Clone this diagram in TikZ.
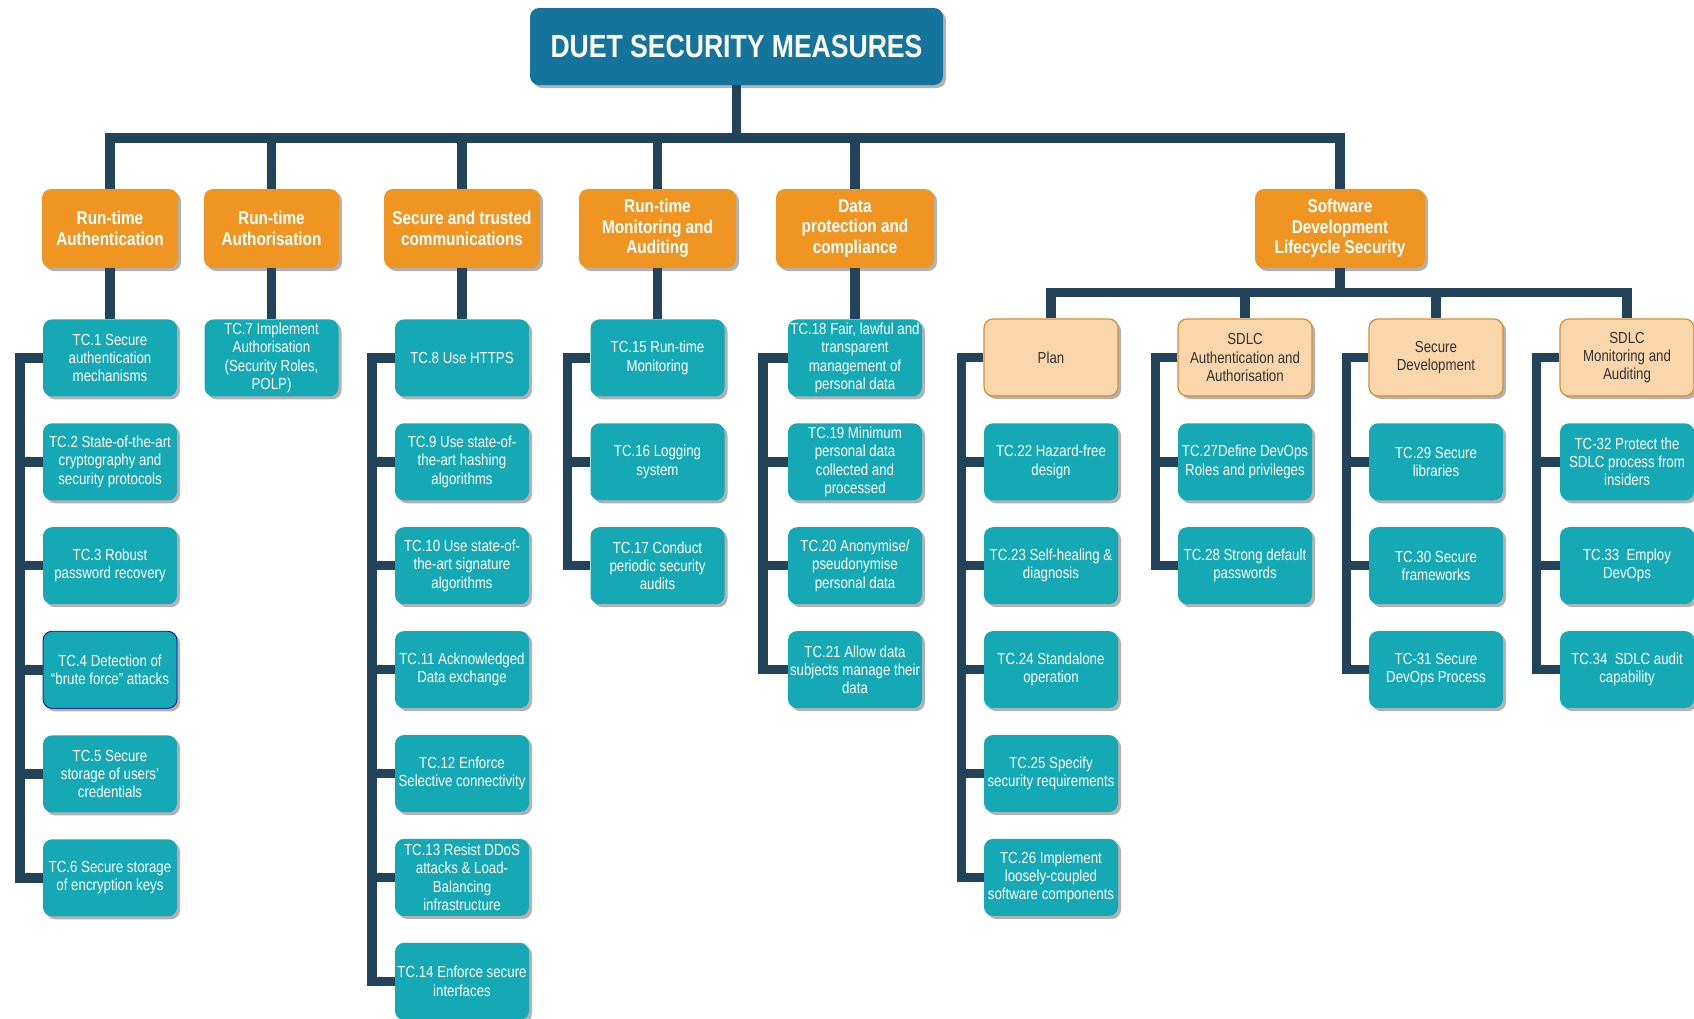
\documentclass[tikz,border=0pt]{standalone}
\usepackage{fontspec}
\setmainfont{Liberation Sans}[FakeStretch=0.83]
\usepackage{tikz}
\usetikzlibrary{positioning,shadows}

\definecolor{duetblue}{RGB}{20,116,156}
\definecolor{catorange}{RGB}{240,148,34}
\definecolor{tcteal}{RGB}{20,169,181}
\definecolor{subpeach}{RGB}{250,214,170}
\definecolor{subedge}{RGB}{212,140,52}
\definecolor{linenavy}{RGB}{35,67,91}

\begin{document}
\begin{tikzpicture}[
  x=1pt, y=1pt,
  node distance=26.5pt,
  box/.style={rounded corners=9pt, align=center, inner sep=1pt, drop shadow={shadow xshift=3pt, shadow yshift=-3pt, opacity=0.3, fill=black}},
  title/.style={box, fill=duetblue, text=white, font=\fontsize{32}{36}\selectfont\bfseries, minimum width=413pt, minimum height=77pt},
  cat/.style={box, fill=catorange, text=white, font=\fontsize{18.5}{20.7}\selectfont\bfseries, minimum height=79pt, minimum width=#1},
  sub/.style={box, fill=subpeach, draw=subedge, line width=1.2pt, text=black!80, font=\fontsize{16}{18.3}\selectfont, minimum width=134pt, minimum height=77pt},
  tc/.style={box, fill=tcteal, text=white, font=\fontsize{16}{18.3}\selectfont, minimum width=134pt, minimum height=77pt},
  conn/.style={draw=linenavy, line width=9.5pt},
]
\useasboundingbox (0,0) rectangle (1694,-1018);
% Title and categories
\node[title] (duet) at (736.5,-46.5) {DUET SECURITY MEASURES};
\node[cat=136pt] (rtauthn) at (110,-228.5) {Run-time\\Authentication};
\node[cat=135pt] (rtauthz) at (271.5,-228.5) {Run-time\\Authorisation};
\node[cat=156pt] (comms) at (462,-228.5) {Secure and trusted\\communications};
\node[cat=157pt] (monit) at (657.5,-228.5) {Run-time\\Monitoring and\\Auditing};
\node[cat=158pt] (dataprot) at (855,-228.5) {Data\\protection and\\compliance};
\node[cat=170pt] (sdlc) at (1340,-228.5) {Software\\Development\\Lifecycle Security};
\coordinate (bus) at (0,-138);
\draw[conn] (duet.south) -- (duet.south |- bus);
\draw[conn] (rtauthn.north) -- (rtauthn.north |- bus) -- (sdlc.north |- bus) -- (sdlc.north);
\foreach \c in {rtauthz,comms,monit,dataprot} {\draw[conn] (\c.north |- bus) -- (\c.north);}
% Run-time authentication
\node[tc, below=51pt of rtauthn] (tc1) {TC.1 Secure\\authentication\\mechanisms};
\node[tc, below=of tc1] (tc2) {TC.2 State-of-the-art\\cryptography and\\security protocols};
\node[tc, below=of tc2] (tc3) {TC.3 Robust\\password recovery};
\node[tc, draw=blue!55!black, line width=0.8pt, below=of tc3] (tc4) {TC.4 Detection of\\``brute force'' attacks};
\node[tc, below=of tc4] (tc5) {TC.5 Secure\\storage of users'\\credentials};
\node[tc, below=of tc5] (tc6) {TC.6 Secure storage\\of encryption keys};
\draw[conn] (rtauthn.south) -- (tc1.north);
\draw[conn] (tc1.west) -- ++(-23,0) |- (tc6.west);
\foreach \t in {tc2,tc3,tc4,tc5} {\draw[conn] (\t.west) -- ++(-23,0);}
% Run-time authorisation
\node[tc, below=51pt of rtauthz] (tc7) {TC.7 Implement\\Authorisation\\(Security Roles,\\POLP)};
\draw[conn] (rtauthz.south) -- (tc7.north);
% Communications
\node[tc, below=51pt of comms] (tc8) {TC.8 Use HTTPS};
\node[tc, below=of tc8] (tc9) {TC.9 Use state-of-\\the-art hashing\\algorithms};
\node[tc, below=of tc9] (tc10) {TC.10 Use state-of-\\the-art signature\\algorithms};
\node[tc, below=of tc10] (tc11) {TC.11 Acknowledged\\Data exchange};
\node[tc, below=of tc11] (tc12) {TC.12 Enforce\\Selective connectivity};
\node[tc, below=of tc12] (tc13) {TC.13 Resist DDoS\\attacks \& Load-\\Balancing\\infrastructure};
\node[tc, below=of tc13] (tc14) {TC.14 Enforce secure\\interfaces};
\draw[conn] (comms.south) -- (tc8.north);
\draw[conn] (tc8.west) -- ++(-23,0) |- (tc14.west);
\foreach \t in {tc9,tc10,tc11,tc12,tc13} {\draw[conn] (\t.west) -- ++(-23,0);}
% Monitoring
\node[tc, below=51pt of monit] (tc15) {TC.15 Run-time\\Monitoring};
\node[tc, below=of tc15] (tc16) {TC.16 Logging\\system};
\node[tc, below=of tc16] (tc17) {TC.17 Conduct\\periodic security\\audits};
\draw[conn] (monit.south) -- (tc15.north);
\draw[conn] (tc15.west) -- ++(-23,0) |- (tc17.west);
\draw[conn] (tc16.west) -- ++(-23,0);
% Data protection
\node[tc, below=51pt of dataprot] (tc18) {TC.18 Fair, lawful and\\transparent\\management of\\personal data};
\node[tc, below=of tc18] (tc19) {TC.19 Minimum\\personal data\\collected and\\processed};
\node[tc, below=of tc19] (tc20) {TC.20 Anonymise/\\pseudonymise\\personal data};
\node[tc, below=of tc20] (tc21) {TC.21 Allow data\\subjects manage their\\data};
\draw[conn] (dataprot.south) -- (tc18.north);
\draw[conn] (tc18.west) -- ++(-25,0) |- (tc21.west);
\foreach \t in {tc19,tc20} {\draw[conn] (\t.west) -- ++(-25,0);}
% SDLC phases
\node[sub] (plan) at (1051,-357.5) {Plan};
\node[sub] (sdlcaa) at (1245,-357.5) {SDLC\\Authentication and\\Authorisation};
\node[sub] (secdev) at (1436,-357.5) {Secure\\Development};
\node[sub] (sdlcmon) at (1627,-357.5) {SDLC\\Monitoring and\\Auditing};
\coordinate (subbus) at (0,-292.5);
\draw[conn] (sdlc.south) -- (sdlc.south |- subbus);
\draw[conn] (plan.north) -- (plan.north |- subbus) -- (sdlcmon.north |- subbus) -- (sdlcmon.north);
\foreach \c in {sdlcaa,secdev} {\draw[conn] (\c.north |- subbus) -- (\c.north);}
% Plan
\node[tc, below=of plan] (tc22) {TC.22 Hazard-free\\design};
\node[tc, below=of tc22] (tc23) {TC.23 Self-healing \&\\diagnosis};
\node[tc, below=of tc23] (tc24) {TC.24 Standalone\\operation};
\node[tc, below=of tc24] (tc25) {TC.25 Specify\\security requirements};
\node[tc, below=of tc25] (tc26) {TC.26 Implement\\loosely-coupled\\software components};
\draw[conn] (plan.west) -- ++(-22,0) |- (tc26.west);
\foreach \t in {tc22,tc23,tc24,tc25} {\draw[conn] (\t.west) -- ++(-22,0);}
% SDLC authentication and authorisation
\node[tc, below=of sdlcaa] (tc27) {TC.27Define DevOps\\Roles and privileges};
\node[tc, below=of tc27] (tc28) {TC.28 Strong default\\passwords};
\draw[conn] (sdlcaa.west) -- ++(-22,0) |- (tc28.west);
\draw[conn] (tc27.west) -- ++(-22,0);
% Secure development
\node[tc, below=of secdev] (tc29) {TC.29 Secure\\libraries};
\node[tc, below=of tc29] (tc30) {TC.30 Secure\\frameworks};
\node[tc, below=of tc30] (tc31) {TC-31 Secure\\DevOps Process};
\draw[conn] (secdev.west) -- ++(-22,0) |- (tc31.west);
\draw[conn] (tc29.west) -- ++(-22,0);
\draw[conn] (tc30.west) -- ++(-22,0);
% SDLC monitoring and auditing
\node[tc, below=of sdlcmon] (tc32) {TC-32 Protect the\\SDLC process from\\insiders};
\node[tc, below=of tc32] (tc33) {TC.33\ \ Employ\\DevOps};
\node[tc, below=of tc33] (tc34) {TC.34\ \ SDLC audit\\capability};
\draw[conn] (sdlcmon.west) -- ++(-23,0) |- (tc34.west);
\draw[conn] (tc32.west) -- ++(-23,0);
\draw[conn] (tc33.west) -- ++(-23,0);
\end{tikzpicture}
\end{document}
